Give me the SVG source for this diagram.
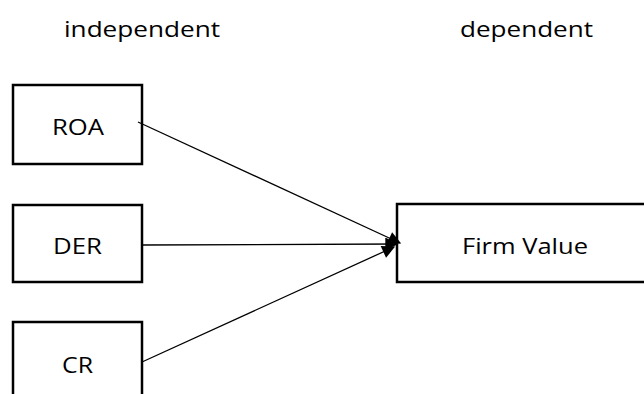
<svg xmlns="http://www.w3.org/2000/svg" width="644" height="394" viewBox="0 0 644 394">
<style>
.box{fill:#fff;stroke:#000;stroke-width:2.5}
.lbl{font-family:"Open Sans","Liberation Sans",sans-serif;font-size:22px;fill:#000}
.hdr{font-family:"Open Sans","Liberation Sans",sans-serif;font-size:22px;fill:#000}
.con{stroke:#000;stroke-width:1.3;fill:none;marker-end:url(#ah)}
</style>
<defs>
<marker id="ah" viewBox="0 0 10 10" refX="9" refY="5" markerWidth="14" markerHeight="13" markerUnits="userSpaceOnUse" orient="auto">
<path d="M0,0 L10,5 L0,10 z" fill="#000"/>
</marker>
</defs>
<rect width="644" height="394" fill="#fff"/>
<text class="hdr" x="64" y="37" textLength="156" lengthAdjust="spacingAndGlyphs">independent</text>
<text class="hdr" x="460" y="37" textLength="133" lengthAdjust="spacingAndGlyphs">dependent</text>
<g id="roa">
<rect class="box" x="13" y="85" width="129" height="79"/>
<text class="lbl" x="52" y="135" textLength="52" lengthAdjust="spacingAndGlyphs">ROA</text>
</g>
<g id="der">
<rect class="box" x="13" y="205" width="129" height="77"/>
<text class="lbl" x="53" y="254" textLength="49" lengthAdjust="spacingAndGlyphs">DER</text>
</g>
<g id="cr">
<rect class="box" x="13" y="322" width="129" height="90"/>
<text class="lbl" x="62" y="373" textLength="31" lengthAdjust="spacingAndGlyphs">CR</text>
</g>
<g id="firm">
<rect class="box" x="397" y="204" width="260" height="78"/>
<text class="lbl" x="462" y="254" textLength="126" lengthAdjust="spacingAndGlyphs">Firm Value</text>
</g>
<g id="connectors">
<line class="con" x1="138" y1="122" x2="400" y2="243"/>
<line class="con" x1="142" y1="245" x2="397" y2="244"/>
<line class="con" x1="142" y1="362" x2="394" y2="247"/>
</g>
</svg>
